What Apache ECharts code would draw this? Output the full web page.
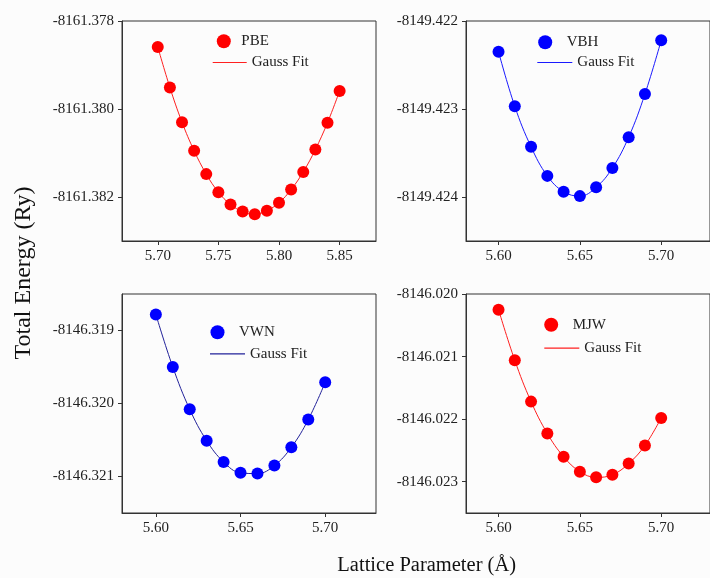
<!DOCTYPE html>
<html>
<head>
<meta charset="utf-8">
<script src="https://cdn.jsdelivr.net/npm/echarts@6/dist/echarts.min.js"></script>
<style>html,body{margin:0;padding:0;background:#fcfcfc;}#c{width:710px;height:578px;}</style>
</head>
<body>
<div id="c"></div>
<script>
// ---- data ----
const pbeX = [5.70,5.71,5.72,5.73,5.74,5.75,5.76,5.77,5.78,5.79,5.80,5.81,5.82,5.83,5.84,5.85];
const pbeY = [-8161.37859,-8161.37951,-8161.38030,-8161.38095,-8161.38148,-8161.38189,-8161.38217,-8161.38233,-8161.38239,-8161.38231,-8161.38213,-8161.38183,-8161.38143,-8161.38092,-8161.38031,-8161.37959];
const vbhX = [5.60,5.61,5.62,5.63,5.64,5.65,5.66,5.67,5.68,5.69,5.70];
const vbhY = [-8149.42235,-8149.42297,-8149.42343,-8149.42376,-8149.42394,-8149.42399,-8149.42389,-8149.42367,-8149.42332,-8149.42283,-8149.42222];
const vwnX = [5.60,5.61,5.62,5.63,5.64,5.65,5.66,5.67,5.68,5.69,5.70];
const vwnY = [-8146.31878,-8146.31950,-8146.32008,-8146.32051,-8146.32080,-8146.32095,-8146.32096,-8146.32085,-8146.32060,-8146.32022,-8146.31971];
const mjwX = [5.60,5.61,5.62,5.63,5.64,5.65,5.66,5.67,5.68,5.69,5.70];
const mjwY = [-8146.02025,-8146.02106,-8146.02172,-8146.02223,-8146.02260,-8146.02284,-8146.02293,-8146.02289,-8146.02271,-8146.02242,-8146.02198];

const xTicksPBE = [5.70,5.75,5.80,5.85];
const xTicksOther = [5.60,5.65,5.70];
const yTicksPBE = [-8161.382,-8161.380,-8161.378];
const yTicksVBH = [-8149.424,-8149.423,-8149.422];
const yTicksVWN = [-8146.321,-8146.320,-8146.319];
const yTicksMJW = [-8146.023,-8146.022,-8146.021,-8146.020];

// ---- chart ----
const FONT = 'Liberation Serif, Times New Roman, serif';
const zip = (xs, ys) => xs.map((v, k) => [v, ys[k]]);

const grids = [
  {left:122, top:21, width:254, height:220},
  {left:466, top:21, width:254, height:220},
  {left:122, top:294, width:254, height:219},
  {left:466, top:294, width:254, height:219}
].map(g => Object.assign({show:true, borderColor:'#333', borderWidth:1, backgroundColor:'transparent'}, g));

function xAxis(i, min, max, ticks) {
  return {
    type:'value', gridIndex:i, min:min, max:max,
    axisLine:{show:true, onZero:false, lineStyle:{color:'#333', width:1}},
    axisTick:{show:true, length:4, inside:false, customValues:ticks, lineStyle:{color:'#333'}},
    axisLabel:{customValues:ticks, margin:8, fontFamily:FONT, fontSize:15, color:'#222',
      formatter:v => Number(v).toFixed(2)},
    splitLine:{show:false}
  };
}
function yAxis(i, min, max, ticks) {
  return {
    type:'value', gridIndex:i, min:min, max:max,
    axisLine:{show:true, onZero:false, lineStyle:{color:'#333', width:1}},
    axisTick:{show:true, length:4, inside:false, customValues:ticks, lineStyle:{color:'#333'}},
    axisLabel:{customValues:ticks, margin:8, fontFamily:FONT, fontSize:15, color:'#222',
      formatter:v => Number(v).toFixed(3)},
    splitLine:{show:false}
  };
}

const sets = [
  {name:'PBE', x:pbeX, y:pbeY, pt:'#ff0000', ln:'#ff2020'},
  {name:'VBH', x:vbhX, y:vbhY, pt:'#0000ff', ln:'#1a1aff'},
  {name:'VWN', x:vwnX, y:vwnY, pt:'#0000ff', ln:'#22229a'},
  {name:'MJW', x:mjwX, y:mjwY, pt:'#ff0000', ln:'#ff2020'}
];
const series = [];
sets.forEach((s, i) => {
  series.push({name:'Gauss Fit ' + s.name, type:'line', xAxisIndex:i, yAxisIndex:i,
    data:zip(s.x, s.y), smooth:0.4, symbol:'none', lineStyle:{color:s.ln, width:1}, itemStyle:{color:s.ln}, z:2});
  series.push({name:s.name, type:'scatter', xAxisIndex:i, yAxisIndex:i,
    data:zip(s.x, s.y), symbol:'circle', symbolSize:12, itemStyle:{color:s.pt, opacity:1}, z:3});
});

function legendDot(name, left, top, w) {
  return {data:[name], left:left, top:top, itemWidth:w, itemHeight:14, padding:0, itemGap:0,
    selectedMode:false, icon:'circle',
    textStyle:{fontFamily:FONT, fontSize:15, color:'#222', lineHeight:14}};
}
function legendLine(name, left, top, w) {
  return {data:[name], left:left, top:top, itemWidth:w, itemHeight:1.2, padding:0, itemGap:0,
    selectedMode:false, icon:'rect',
    formatter: () => 'Gauss Fit',
    textStyle:{fontFamily:FONT, fontSize:15, color:'#222', lineHeight:14}};
}
const legends = [
  legendDot('PBE', 216.8, 33.7, 25),
  legendLine('Gauss Fit PBE', 212.7, 55, 34),
  legendDot('VBH', 538.2, 34.7, 33),
  legendLine('Gauss Fit VBH', 537.3, 55, 35),
  legendDot('VWN', 210.5, 324.7, 33),
  legendLine('Gauss Fit VWN', 210, 346.3, 35),
  legendDot('MJW', 544.2, 317.3, 33),
  legendLine('Gauss Fit MJW', 544.3, 340.7, 35)
];

const chart = echarts.init(document.getElementById('c'), null, {renderer:'canvas'});
chart.setOption({
  backgroundColor:'#fcfcfc',
  animation:false,
  grid:grids,
  xAxis:[xAxis(0,5.6705,5.88,xTicksPBE), xAxis(1,5.58,5.73,xTicksOther), xAxis(2,5.58,5.73,xTicksOther), xAxis(3,5.58,5.73,xTicksOther)],
  yAxis:[yAxis(0,-8161.383,-8161.378,yTicksPBE), yAxis(1,-8149.4245,-8149.422,yTicksVBH), yAxis(2,-8146.3215,-8146.3185,yTicksVWN), yAxis(3,-8146.0235,-8146.020,yTicksMJW)],
  legend:legends,
  series:series,
  graphic:[
    {type:'text', x:24, y:273, rotation:Math.PI/2,
      style:{text:'Total Energy (Ry)', font:'24px ' + FONT, fill:'#111', align:'center', verticalAlign:'middle'}},
    {type:'text', x:426.7, y:566,
      style:{text:'Lattice Parameter (Å)', font:'20.5px ' + FONT, fill:'#111', align:'center', verticalAlign:'middle'}}
  ]
});
</script>
</body>
</html>
